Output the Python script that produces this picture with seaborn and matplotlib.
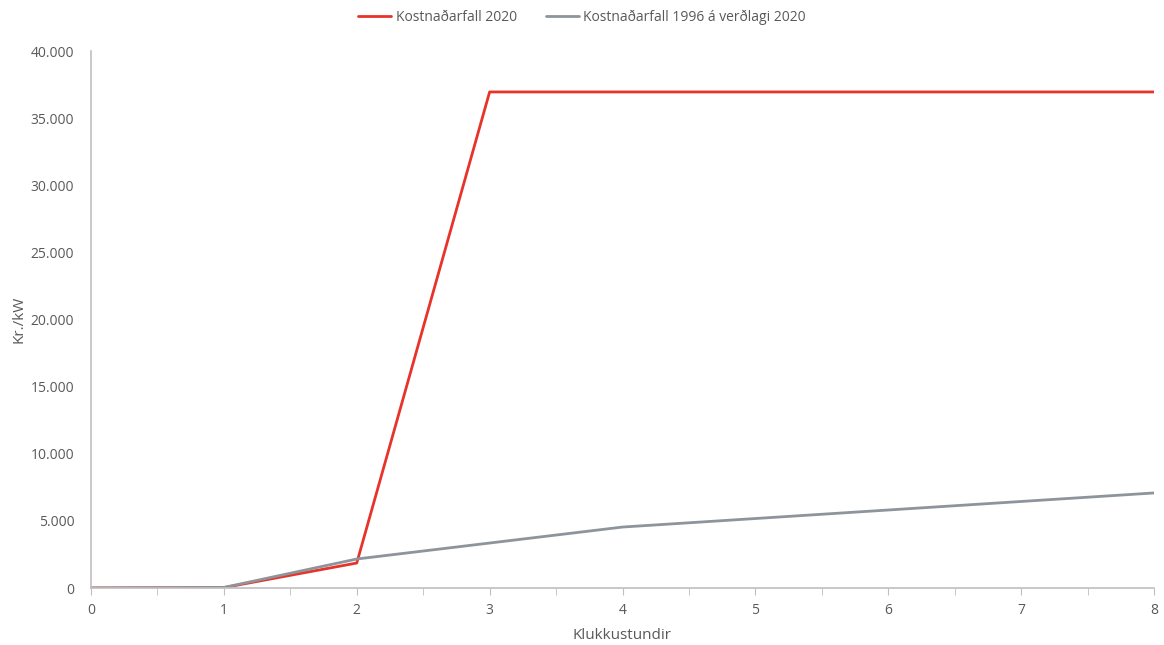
import numpy as np
import pandas as pd
import seaborn as sns
from matplotlib import pyplot as plt
from matplotlib.ticker import FuncFormatter, MultipleLocator

# values
hours = [0, 1, 2, 3, 4, 5, 6, 7, 8]
cost_2020 = [0, 30, 1860, 36950, 36950, 36950, 36950, 36950, 36950]
cost_1996 = [0, 40, 2160, 3350, 4540, 5175, 5810, 6445, 7080]
series_names = ['Kostnaðarfall 2020', 'Kostnaðarfall 1996 á verðlagi 2020']
series_colors = ['#e8332a', '#8d949b']

df = pd.DataFrame({
    'Klukkustundir': hours * 2,
    'Kr./kW': cost_2020 + cost_1996,
    'series': [series_names[0]] * len(hours) + [series_names[1]] * len(hours),
})

sns.set_style('white')
plt.rcParams['font.family'] = ['Open Sans', 'DejaVu Sans']
text_col = '#595959'
axis_col = '#bfbfbf'

fig = plt.figure(figsize=(11.64, 6.45), dpi=100)
ax = fig.add_axes([91 / 1164, 1 - 588 / 645, (1154 - 91) / 1164, (588 - 51) / 645])
sns.lineplot(data=df, x='Klukkustundir', y='Kr./kW', hue='series',
             palette=dict(zip(series_names, series_colors)), linewidth=2, ax=ax)

ax.set_xlim(0, 8)
ax.set_ylim(0, 40000)
ax.xaxis.set_major_locator(MultipleLocator(1))
ax.xaxis.set_minor_locator(MultipleLocator(0.5))
ax.yaxis.set_major_locator(MultipleLocator(5000))
ax.yaxis.set_major_formatter(FuncFormatter(lambda v, p: f'{int(v):,}'.replace(',', '.')))
ax.tick_params(axis='x', which='both', direction='out', length=5, color=axis_col,
               labelcolor=text_col, labelsize=10, bottom=True, pad=6)
ax.tick_params(axis='y', length=0, labelcolor=text_col, labelsize=10, pad=12)
for s in ['top', 'right']:
    ax.spines[s].set_visible(False)
for s in ['left', 'bottom']:
    ax.spines[s].set_color(axis_col)
    ax.spines[s].set_linewidth(1.2)
ax.set_xlabel('Klukkustundir', color=text_col, fontsize=11, labelpad=7)
ax.set_ylabel('Kr./kW', color=text_col, fontsize=11, labelpad=3)

handles, labels = ax.get_legend_handles_labels()
ax.get_legend().remove()
fig.legend(handles, labels, loc='center', bbox_to_anchor=(0.5, 1 - 17 / 645),
           ncol=2, frameon=False, fontsize=10, labelcolor=text_col,
           handlelength=2.4, handletextpad=0.3, columnspacing=2.1)

fig.savefig('out.png', dpi=100)
